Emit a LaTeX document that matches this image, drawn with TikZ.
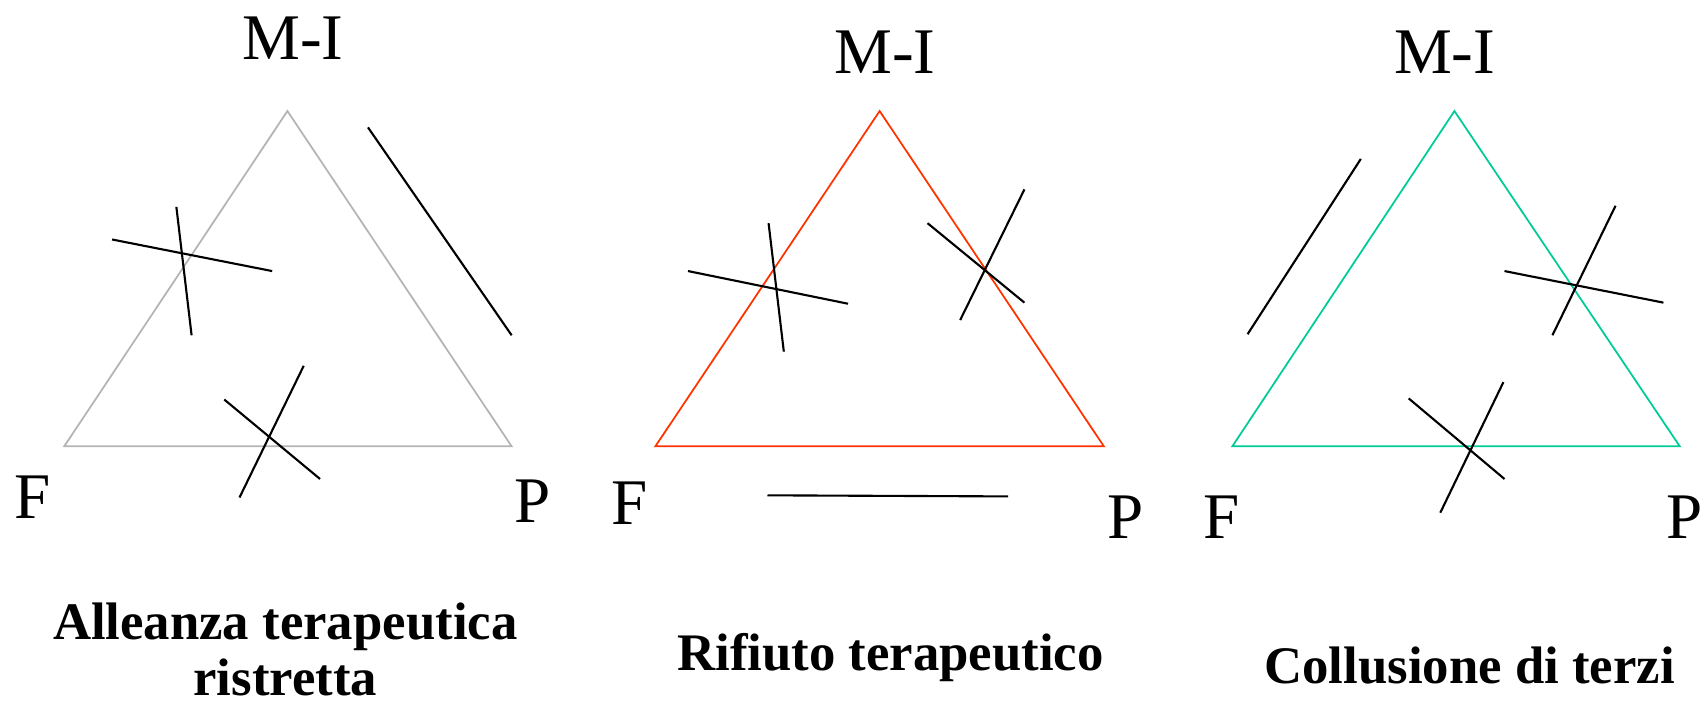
\documentclass[tikz,border=0pt]{standalone}
\usepackage{fontspec}
\setmainfont{Liberation Serif}
\usetikzlibrary{positioning}
\definecolor{cGray}{HTML}{B4B4B4}
\definecolor{cRed}{HTML}{FF3300}
\definecolor{cTeal}{HTML}{00CC99}

\begin{document}
\begin{tikzpicture}[
  x=0.010887cm, y=-0.010887cm,
  vtx/.style={font=\fontsize{18.5}{20}\selectfont, inner sep=0pt},
  capt/.style={font=\fontsize{15}{16}\selectfont\bfseries, inner sep=0pt, align=center, anchor=north},
  tri/.style={line width=0.5pt, line join=miter},
  cut/.style={black, line width=0.6pt},
]
\useasboundingbox (0,0) rectangle (1568,648);

% ---------- Panel 1: restricted alliance ----------
\coordinate (a1) at (264,102);
\coordinate (f1) at (59,410);
\coordinate (p1) at (470,410);
\draw[tri, cGray] (a1) -- (f1) -- (p1) -- cycle;
\node[vtx] (mi1) at (269,35) {M-I};
\node[vtx] (fl1) at (30,457) {F};
\node[vtx] (pl1) at (489,460) {P};
\draw[cut] (338,117) -- (470,308);
\draw[cut] (103,220) -- (250,249);
\draw[cut] (162,190) -- (176,308);
\draw[cut] (206,367) -- (294,440);
\draw[cut] (279,336) -- (220,457);
\node[capt] (c1) at (262,553) {Alleanza terapeutica\\ristretta};

% ---------- Panel 2: refusal ----------
\coordinate (a2) at (808,102);
\coordinate (f2) at (602,410);
\coordinate (p2) at (1014,410);
\draw[tri, cRed] (a2) -- (f2) -- (p2) -- cycle;
\node[vtx] (mi2) at (813,48) {M-I};
\node[vtx] (fl2) at (578,462) {F};
\node[vtx] (pl2) at (1034,475) {P};
\draw[cut] (705,455) -- (926,456);
\draw[cut] (632,249) -- (779,279);
\draw[cut] (706,205) -- (720,323);
\draw[cut] (852,205) -- (941,278);
\draw[cut] (941,174) -- (882,294);
\node[capt] (c2) at (818,581) {Rifiuto terapeutico};

% ---------- Panel 3: collusion ----------
\coordinate (a3) at (1336,102);
\coordinate (f3) at (1132,410);
\coordinate (p3) at (1543,410);
\draw[tri, cTeal] (a3) -- (f3) -- (p3) -- cycle;
\node[vtx] (mi3) at (1327,48) {M-I};
\node[vtx] (fl3) at (1122,475) {F};
\node[vtx] (pl3) at (1547,475) {P};
\draw[cut] (1146,307) -- (1250,146);
\draw[cut] (1382,249) -- (1528,278);
\draw[cut] (1484,189) -- (1426,308);
\draw[cut] (1294,366) -- (1382,440);
\draw[cut] (1381,351) -- (1323,471);
\node[capt] (c3) at (1350,594) {Collusione di terzi};

\end{tikzpicture}
\end{document}
